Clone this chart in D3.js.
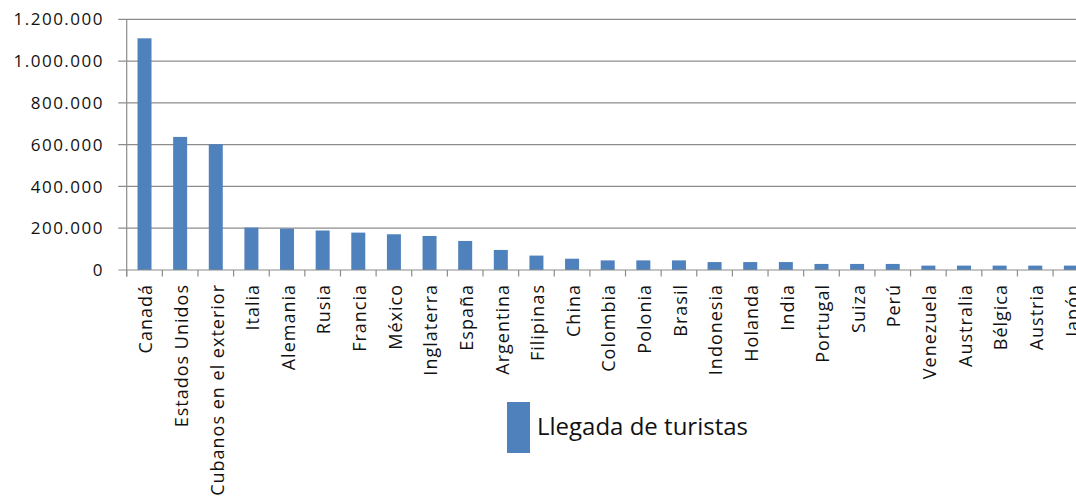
<!DOCTYPE html>
<html>
<head>
<meta charset="utf-8">
<script src="https://cdn.jsdelivr.net/npm/d3@7"></script>
<style>
  html, body { margin: 0; padding: 0; background: #fff; }
  svg { display: block; }
</style>
</head>
<body>
<svg id="chart" width="1076" height="498"></svg>
<script>
const categories = ["Canadá", "Estados Unidos", "Cubanos en el exterior", "Italia", "Alemania", "Rusia",
  "Francia", "México", "Inglaterra", "España", "Argentina", "Filipinas", "China", "Colombia", "Polonia",
  "Brasil", "Indonesia", "Holanda", "India", "Portugal", "Suiza", "Perú", "Venezuela", "Australia",
  "Bélgica", "Austria", "Japón"];
const llegadas = [1109000, 637000, 602000, 203000, 198000, 189000, 179000, 171000, 163000, 139000,
  96000, 69000, 54000, 46000, 46000, 46000, 38000, 38000, 38000, 29000, 29000, 29000,
  21000, 21000, 21000, 21000, 21000];
const yTicks = [0, 200000, 400000, 600000, 800000, 1000000, 1200000];
const seriesName = "Llegada de turistas";

(function () {
const svg = d3.select("#chart");
const mLeft = 126.7, mRight = 1088.7, mTop = 19.3, mBottom = 270;
const barColor = "#4F81BD", gridColor = "#8c8c8c", textColor = "#111";
const font = "'Open Sans', sans-serif";

const x = d3.scaleBand().domain(categories).range([mLeft, mRight])
  .paddingInner(0.607).paddingOuter(0.3035);
const y = d3.scaleLinear().domain([0, 1200000]).range([mBottom, mTop]);
const step = x.step();

const loc = d3.formatLocale({decimal: ",", thousands: ".", grouping: [3], currency: ["", ""]});
const fmt = loc.format(",d");

// gridlines
svg.append("g").selectAll("line").data(yTicks.filter(d => d > 0)).join("line")
  .attr("x1", mLeft - 8.4).attr("x2", 1100)
  .attr("y1", d => y(d)).attr("y2", d => y(d))
  .attr("stroke", gridColor).attr("stroke-width", 1.2);

// y axis line
svg.append("line").attr("x1", mLeft).attr("x2", mLeft).attr("y1", mTop).attr("y2", mBottom + 6.5)
  .attr("stroke", gridColor).attr("stroke-width", 1.2);

// y labels
svg.append("g").selectAll("text").data(yTicks).join("text")
  .attr("x", 104).attr("y", d => y(d)).attr("dy", "0.36em")
  .attr("text-anchor", "end")
  .attr("font-family", font).attr("font-size", 17).attr("letter-spacing", "1.5px")
  .attr("fill", textColor)
  .text(d => fmt(d));

// bars
svg.append("g").selectAll("rect").data(categories).join("rect")
  .attr("x", d => x(d)).attr("width", x.bandwidth())
  .attr("y", (d, i) => y(llegadas[i]))
  .attr("height", (d, i) => mBottom - y(llegadas[i]))
  .attr("fill", barColor);

// x axis line
svg.append("line").attr("x1", mLeft - 8.4).attr("x2", 1100).attr("y1", mBottom).attr("y2", mBottom)
  .attr("stroke", gridColor).attr("stroke-width", 1.2);

// x ticks at band boundaries
svg.append("g").selectAll("line").data(d3.range(categories.length + 1)).join("line")
  .attr("x1", i => mLeft + i * step).attr("x2", i => mLeft + i * step)
  .attr("y1", mBottom).attr("y2", mBottom + 6.5)
  .attr("stroke", gridColor).attr("stroke-width", 1.2);

// x labels
svg.append("g").selectAll("text").data(categories).join("text")
  .attr("transform", d => `translate(${x(d) + x.bandwidth() / 2},284) rotate(-90)`)
  .attr("dy", "0.43em")
  .attr("text-anchor", "end")
  .attr("font-family", font).attr("font-size", 18).attr("letter-spacing", "1px")
  .attr("fill", textColor)
  .text(d => d);

// legend
const lg = svg.append("g");
lg.append("rect").attr("x", 507).attr("y", 402).attr("width", 23).attr("height", 51).attr("fill", barColor);
lg.append("text").attr("x", 537).attr("y", 435)
  .attr("font-family", font).attr("font-size", 24).attr("fill", textColor)
  .text(seriesName);
})();
</script>
</body>
</html>
